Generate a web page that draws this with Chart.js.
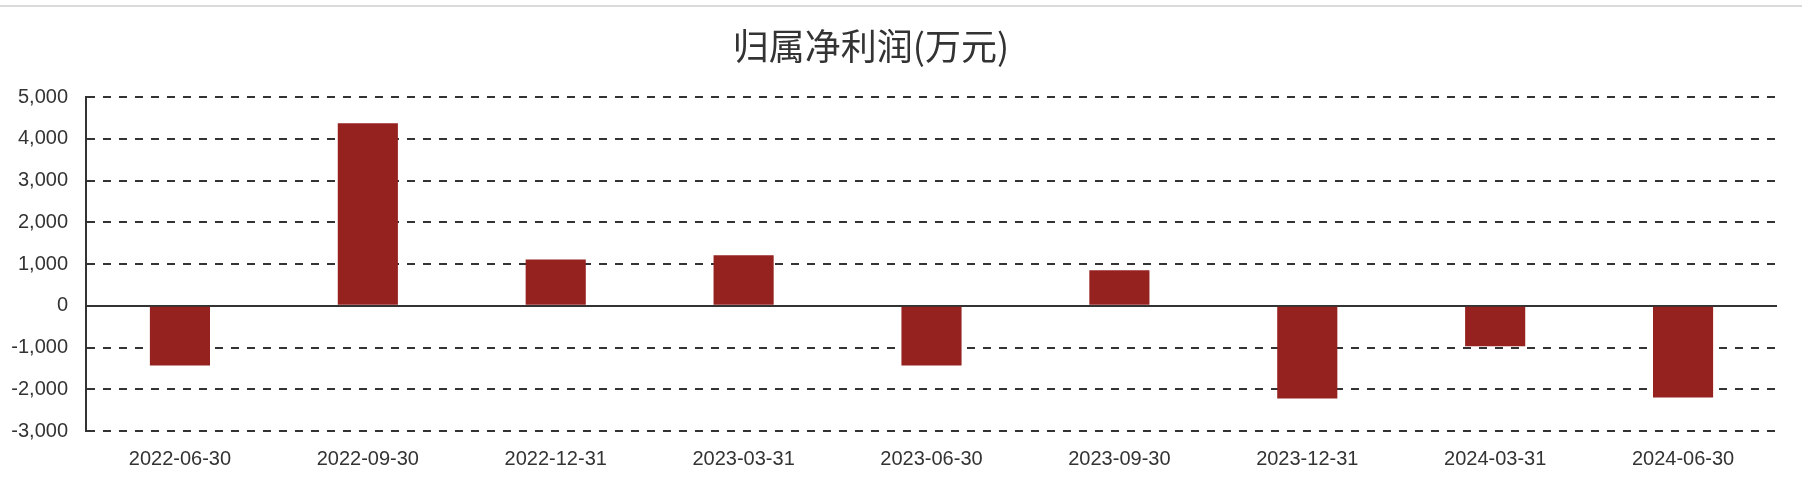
<!DOCTYPE html>
<html lang="zh-CN">
<head>
<meta charset="utf-8">
<title>归属净利润(万元)</title>
<script src="https://cdn.jsdelivr.net/npm/chart.js@4.4.1/dist/chart.umd.min.js"></script>
<style>
    html, body { margin: 0; padding: 0; background: #fff; }
    .wrap { position: relative; width: 1802px; height: 504px; }
    .topline { position: absolute; left: 0; top: 5px; width: 100%; height: 2px; background: #dadada; }
    canvas { position: absolute; left: 0; top: 0; }
</style>
</head>
<body>
<div class="wrap">
    <div class="topline"></div>
    <canvas id="profitChart" width="1802" height="504"></canvas>
</div>
<script>
// 数据
const chartTitle = '归属净利润(万元)';
const periods = ['2022-06-30', '2022-09-30', '2022-12-31', '2023-03-31', '2023-06-30', '2023-09-30', '2023-12-31', '2024-03-31', '2024-06-30'];
const netProfit = [-1430, 4370, 1110, 1210, -1430, 850, -2220, -970, -2200];
const yTicks = [-3000, -2000, -1000, 0, 1000, 2000, 3000, 4000, 5000];

// 标题 (画在图表上方, 略偏左)
const titlePlugin = {
    id: 'customTitle',
    afterDraw(chart) {
        const c = chart.ctx;
        c.save();
        c.font = '36px "Noto Sans CJK SC", sans-serif';
        c.fillStyle = '#333';
        c.textAlign = 'center';
        c.textBaseline = 'middle';
        c.fillText(chartTitle, 871, 46);
        c.restore();
    }
};

const ctx = document.getElementById('profitChart').getContext('2d');
const profitChart = new Chart(ctx, {
    type: 'bar',
    data: {
        labels: periods,
        datasets: [{
            label: chartTitle,
            data: netProfit,
            backgroundColor: '#962220',
            borderWidth: 0,
            barPercentage: 0.32,
            categoryPercentage: 1.0
        }]
    },
    options: {
        responsive: false,
        animation: false,
        layout: {
            padding: { left: 0, right: 25, top: 97, bottom: 17 }
        },
        scales: {
            x: {
                grid: { display: false, drawTicks: false },
                border: { display: false },
                ticks: {
                    color: '#333',
                    font: { family: '"Liberation Sans", Arial, sans-serif', size: 20 },
                    padding: 16,
                    maxRotation: 0
                }
            },
            y: {
                min: yTicks[0],
                max: yTicks[yTicks.length - 1],
                afterBuildTicks: scale => {
                    scale.ticks = yTicks.map(v => ({ value: v }));
                },
                afterFit: scale => {
                    scale.width = 86;
                },
                grid: {
                    color: '#333',
                    lineWidth: 2,
                    drawTicks: false
                },
                border: {
                    display: true,
                    color: '#333',
                    width: 2,
                    dash: c => (c.tick && c.tick.value === 0) ? [] : [8, 8]
                },
                ticks: {
                    color: '#333',
                    font: { family: '"Liberation Sans", Arial, sans-serif', size: 20 },
                    padding: 18
                }
            }
        },
        plugins: {
            legend: { display: false },
            title: { display: false },
            tooltip: { enabled: false }
        }
    },
    plugins: [titlePlugin]
});
</script>
</body>
</html>
